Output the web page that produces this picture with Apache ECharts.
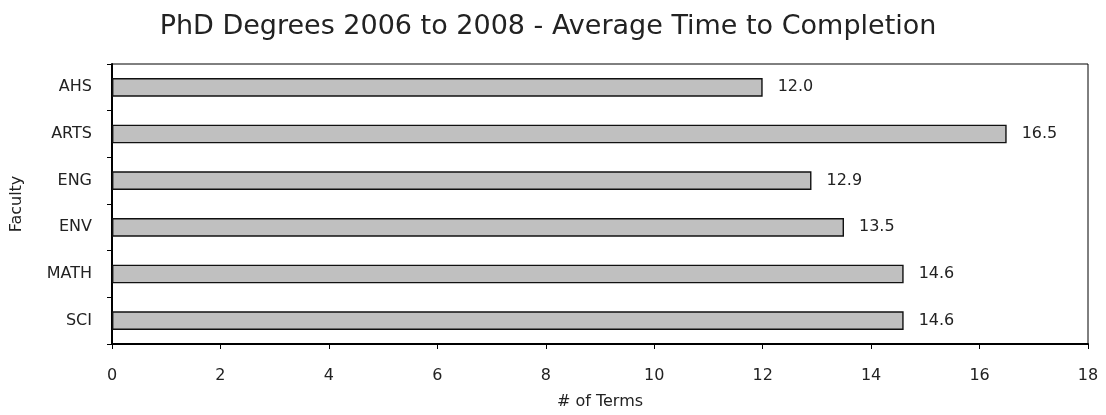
<!DOCTYPE html>
<html><head><meta charset="utf-8">
<script src="https://cdn.jsdelivr.net/npm/echarts@6/dist/echarts.min.js"></script>
<style>html,body{margin:0;padding:0;background:#fff}#c{width:1106px;height:415px}</style>
</head><body><div id="c"></div>
<script>
const categories = ['AHS','ARTS','ENG','ENV','MATH','SCI'];
const values = [12.0, 16.5, 12.9, 13.5, 14.6, 14.6];
const titleText = 'PhD Degrees 2006 to 2008 - Average Time to Completion';
const xName = '# of Terms';
const yName = 'Faculty';

const chart = echarts.init(document.getElementById('c'));
const font = 'Verdana, "DejaVu Sans", sans-serif';
chart.setOption({
  animation: false,
  backgroundColor: '#fff',
  title: {text: titleText, left: 543, top: 8, textAlign: 'center',
    textStyle: {fontFamily: font, fontSize: 27, fontWeight: 'normal', color: '#222'}},
  grid: {left: 112, right: 18, top: 64, bottom: 69, show: true, borderColor: '#000', borderWidth: 1},
  xAxis: {type: 'value', min: 0, max: 18, interval: 2, name: xName, nameLocation: 'middle', nameGap: 50,
    nameTextStyle: {fontFamily: font, fontSize: 16, color: '#222'},
    axisLine: {show: true, lineStyle: {color: '#000', width: 2}},
    axisTick: {show: true, length: 5, lineStyle: {color: '#000', width: 1}},
    splitLine: {show: false},
    axisLabel: {fontFamily: font, fontSize: 16, color: '#222', margin: 24}},
  yAxis: {type: 'category', data: categories, inverse: true, name: yName, nameLocation: 'middle', nameGap: 87,
    nameTextStyle: {fontFamily: font, fontSize: 16, color: '#222'},
    axisLine: {show: true, lineStyle: {color: '#000', width: 2}},
    axisTick: {show: true, length: 5, lineStyle: {color: '#000', width: 1}},
    axisLabel: {fontFamily: font, fontSize: 16, color: '#222', margin: 20}},
  series: [{type: 'bar', data: values, barWidth: '40%',
    itemStyle: {color: '#c0c0c0', borderColor: '#111', borderWidth: 1.4},
    label: {show: true, position: 'right', distance: 15, formatter: p => p.value.toFixed(1),
      fontFamily: font, fontSize: 16, color: '#222'}}]
});
</script></body></html>
